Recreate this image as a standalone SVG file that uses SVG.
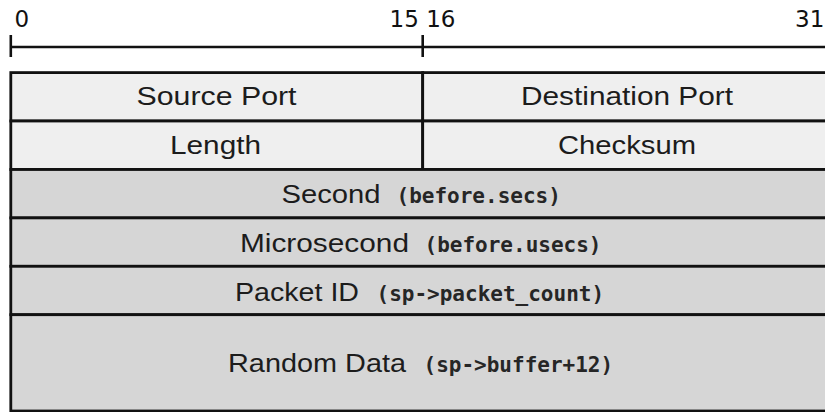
<svg xmlns="http://www.w3.org/2000/svg" width="825" height="412" viewBox="0 0 825 412">
  <style>
    .axis { stroke: #111; stroke-width: 2.6; fill: none; }
    .num { font-family: "DejaVu Sans", Verdana, sans-serif; font-size: 23px; fill: #111; }
    .top { fill: #efefef; stroke: #111; stroke-width: 2.8; }
    .low { fill: #d6d6d6; stroke: #111; stroke-width: 2.8; }
    .lbl { font-family: "Liberation Sans", Arial, Helvetica, sans-serif; font-size: 26px; fill: #1c1c1c; }
    .code { font-family: "DejaVu Sans Mono", "Liberation Mono", monospace; font-weight: bold; font-size: 21px; fill: #262626; }
  </style>

  <!-- bit ruler -->
  <g id="ruler">
    <line class="axis" x1="10.5" y1="47" x2="840" y2="47"/>
    <line class="axis" x1="10.8" y1="35" x2="10.8" y2="57"/>
    <line class="axis" x1="422.7" y1="35" x2="422.7" y2="57"/>
    <text class="num" x="14.5" y="26.5">0</text>
    <text class="num" x="422.5" y="26.5" text-anchor="middle">15 16</text>
    <text class="num" x="795" y="26.5">31</text>
  </g>

  <!-- header fields, 16 bits each -->
  <g id="source-port">
    <rect class="top" x="10.8" y="72.6" width="411.9" height="48.4"/>
    <text class="lbl" x="136.5" y="105" textLength="160" lengthAdjust="spacingAndGlyphs">Source Port</text>
  </g>
  <g id="destination-port">
    <rect class="top" x="422.7" y="72.6" width="414" height="48.4"/>
    <text class="lbl" x="521" y="105" textLength="212" lengthAdjust="spacingAndGlyphs">Destination Port</text>
  </g>
  <g id="length">
    <rect class="top" x="10.8" y="121" width="411.9" height="48.5"/>
    <text class="lbl" x="170" y="154" textLength="91" lengthAdjust="spacingAndGlyphs">Length</text>
  </g>
  <g id="checksum">
    <rect class="top" x="422.7" y="121" width="414" height="48.5"/>
    <text class="lbl" x="558" y="154" textLength="138" lengthAdjust="spacingAndGlyphs">Checksum</text>
  </g>

  <!-- payload fields, 32 bits each -->
  <g id="second">
    <rect class="low" x="10.8" y="169.5" width="826" height="48.4"/>
    <text class="lbl" x="281.5" y="203" textLength="99" lengthAdjust="spacingAndGlyphs">Second</text>
    <text class="code" x="396.5" y="203">(before.secs)</text>
  </g>
  <g id="microsecond">
    <rect class="low" x="10.8" y="217.9" width="826" height="48.4"/>
    <text class="lbl" x="240" y="251.5" textLength="169" lengthAdjust="spacingAndGlyphs">Microsecond</text>
    <text class="code" x="424.5" y="251.5">(before.usecs)</text>
  </g>
  <g id="packet-id">
    <rect class="low" x="10.8" y="266.3" width="826" height="48.4"/>
    <text class="lbl" x="235" y="300.5" textLength="124" lengthAdjust="spacingAndGlyphs">Packet ID</text>
    <text class="code" x="376.5" y="300.5">(sp-&gt;packet_count)</text>
  </g>
  <g id="random-data">
    <rect class="low" x="10.8" y="314.7" width="826" height="96.3"/>
    <text class="lbl" x="228" y="371.5" textLength="178" lengthAdjust="spacingAndGlyphs">Random Data</text>
    <text class="code" x="423.5" y="371.5">(sp-&gt;buffer+12)</text>
  </g>
</svg>
